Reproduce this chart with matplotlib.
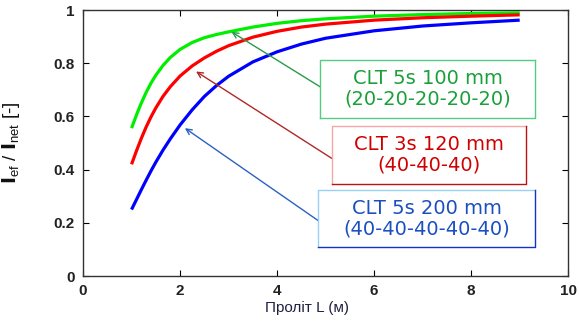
import matplotlib
matplotlib.use("Agg")
import matplotlib.pyplot as plt
from matplotlib.patches import Rectangle

plt.rcParams['font.family'] = ['Liberation Sans', 'DejaVu Sans']
plt.rcParams['mathtext.default'] = 'regular'

# ---- data ----
span_green = [1.0, 1.1, 1.2, 1.3, 1.4, 1.5, 1.65, 1.8, 2.0, 2.25, 2.5, 2.75, 3.0, 3.5, 4.0, 4.5, 5.0, 6.0, 7.0, 8.0, 9.0]
ratio_green = [0.556, 0.605, 0.650, 0.690, 0.725, 0.755, 0.792, 0.822, 0.852, 0.878, 0.896, 0.908, 0.918, 0.936, 0.950, 0.960, 0.967, 0.977, 0.983, 0.987, 0.990]

span_red = [1.0, 1.1, 1.2, 1.3, 1.4, 1.5, 1.65, 1.8, 2.0, 2.25, 2.5, 2.75, 3.0, 3.5, 4.0, 4.5, 5.0, 6.0, 7.0, 8.0, 9.0]
ratio_red = [0.420, 0.470, 0.517, 0.560, 0.598, 0.632, 0.676, 0.712, 0.752, 0.790, 0.820, 0.845, 0.866, 0.898, 0.920, 0.936, 0.947, 0.962, 0.971, 0.977, 0.982]

span_blue = [1.0, 1.1, 1.2, 1.3, 1.4, 1.5, 1.65, 1.8, 2.0, 2.25, 2.5, 2.75, 3.0, 3.5, 4.0, 4.5, 5.0, 6.0, 7.0, 8.0, 9.0]
ratio_blue = [0.250, 0.287, 0.324, 0.360, 0.395, 0.428, 0.474, 0.516, 0.568, 0.625, 0.675, 0.716, 0.751, 0.805, 0.843, 0.872, 0.894, 0.922, 0.940, 0.952, 0.962]

labels = ["CLT 5s 100 mm\n(20-20-20-20-20)",
          "CLT 3s 120 mm\n(40-40-40)",
          "CLT 5s 200 mm\n(40-40-40-40-40)"]
arrow_targets = [(3.06, 0.918), (2.33, 0.769), (2.10, 0.556)]

xticks = [0, 2, 4, 6, 8, 10]
yticks = [0, 0.2, 0.4, 0.6, 0.8, 1]

fig = plt.figure(figsize=(5.79, 3.24), dpi=100)
ax = fig.add_axes([0.1434, 0.148, 0.838, 0.821])

ax.plot(span_green, ratio_green, color='#00ee00', lw=2.3, solid_capstyle='butt', zorder=3)
ax.plot(span_red, ratio_red, color='#ff0000', lw=2.3, solid_capstyle='butt', zorder=3)
ax.plot(span_blue, ratio_blue, color='#0000ff', lw=2.3, solid_capstyle='butt', zorder=3)

ax.set_xlim(0, 10)
ax.set_ylim(0, 1)
ax.set_xticks(xticks)
ax.set_xticklabels([str(t) for t in xticks])
ax.set_yticks(yticks)
ax.set_yticklabels(['0', '0.2', '0.4', '0.6', '0.8', '1'])
ax.tick_params(direction='in', length=4, width=0.8, top=True, right=True,
               labelsize=11, pad=6, labelcolor='#222222')
for lab in ax.get_xticklabels() + ax.get_yticklabels():
    lab.set_fontweight('bold')
for s in ax.spines.values():
    s.set_linewidth(1.0)
    s.set_color('#333333')

ax.set_xlabel('Проліт L (м)', fontsize=11, color='#202040', labelpad=3)
ax.xaxis.set_label_coords(0.462, -0.095)
ax.set_ylabel(r'$\mathbf{I}_{ef}$ / $\mathbf{I}_{net}$ [-]', fontsize=13.5,
              labelpad=4, color='#111111')
ax.yaxis.set_label_coords(-0.125, 0.5)

# annotation boxes: (x0, y0, x1, y1) in data coords, styles
boxes = [
    dict(rect=(4.89, 0.594, 9.31, 0.812), start=(4.89, 0.711), text_c='#1aa03a',
         edge_tl='#55cc80', edge_br='#55cc80', arrow_c='#2a9a4a'),
    dict(rect=(5.13, 0.346, 9.12, 0.564), start=(5.13, 0.442), text_c='#d00000',
         edge_tl='#f4a8a8', edge_br='#c01010', arrow_c='#b02828'),
    dict(rect=(4.85, 0.108, 9.31, 0.323), start=(4.85, 0.208), text_c='#1a4fc0',
         edge_tl='#9ccff2', edge_br='#1035c0', arrow_c='#2a62c0'),
]

for b, lab, tgt in zip(boxes, labels, arrow_targets):
    x0, y0, x1, y1 = b['rect']
    ax.add_patch(Rectangle((x0, y0), x1 - x0, y1 - y0, facecolor='white',
                           edgecolor='none', zorder=4))
    ax.plot([x0, x0, x1], [y0, y1, y1], color=b['edge_tl'], lw=1.0, zorder=5)
    ax.plot([x0, x1, x1], [y0, y0, y1], color=b['edge_br'], lw=1.0, zorder=5)
    ax.text((x0 + x1) / 2, (y0 + y1) / 2, lab, ha='center', va='center',
            color=b['text_c'], fontsize=14, family=['DejaVu Sans'],
            linespacing=1.12, zorder=6)
    ax.annotate('', xy=tgt, xytext=b['start'],
                arrowprops=dict(arrowstyle='->', color=b['arrow_c'], lw=1.0,
                                mutation_scale=10, shrinkA=0, shrinkB=0),
                zorder=4)

fig.savefig('out.png', dpi=100)
